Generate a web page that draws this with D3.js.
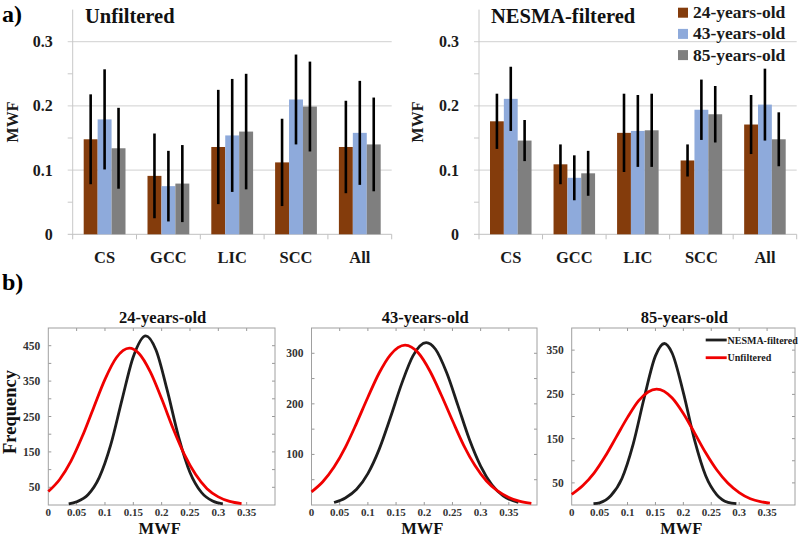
<!DOCTYPE html>
<html>
<head>
<meta charset="utf-8">
<script src="https://cdn.jsdelivr.net/npm/d3@7"></script>
<style>
  body { margin: 0; background: #fff; }
  text { font-family: "Liberation Serif", serif; font-weight: bold; }
</style>
</head>
<body>
<div id="chart"></div>
<script>
// ---- data ----
var categories = ["CS", "GCC", "LIC", "SCC", "All"];
var ages = ["24-years-old", "43-years-old", "85-years-old"];
var ageColors = ["#843c0c", "#8eaadb", "#7f7f7f"];

// mean MWF per category, one value per age
var unfilteredMean = [[0.148, 0.179, 0.134], [0.091, 0.075, 0.079], [0.136, 0.154, 0.160], [0.112, 0.210, 0.199], [0.136, 0.158, 0.140]];
var unfilteredErr  = [[0.070, 0.078, 0.063], [0.066, 0.055, 0.060], [0.089, 0.088, 0.090], [0.068, 0.070, 0.070], [0.072, 0.081, 0.073]];
var nesmaMean = [[0.176, 0.211, 0.146], [0.109, 0.088, 0.095], [0.158, 0.161, 0.162], [0.115, 0.194, 0.187], [0.171, 0.202, 0.148]];
var nesmaErr  = [[0.043, 0.050, 0.032], [0.031, 0.035, 0.035], [0.061, 0.056, 0.057], [0.025, 0.047, 0.044], [0.046, 0.056, 0.042]];
var barTicks = [0, 0.1, 0.2, 0.3];

// MWF distributions (x = MWF, y = frequency)
var nesma24X = [0.036, 0.05, 0.07, 0.09, 0.11, 0.13, 0.15, 0.172, 0.19, 0.21, 0.23, 0.25, 0.27, 0.29, 0.308];
var nesma24Y = [3, 9, 29, 78, 169, 297, 419, 478, 438, 323, 192, 92, 36, 11, 3];
var unf24X = [0, 0.02, 0.04, 0.06, 0.08, 0.1, 0.12, 0.143, 0.16, 0.18, 0.2, 0.22, 0.24, 0.26, 0.28, 0.3, 0.32, 0.341];
var unf24Y = [38, 72, 124, 194, 275, 355, 416, 443, 428, 376, 300, 217, 143, 86, 46, 23, 10, 4];
var nesma43X = [0.04, 0.06, 0.08, 0.1, 0.12, 0.14, 0.16, 0.18, 0.2035, 0.22, 0.24, 0.26, 0.28, 0.3, 0.32, 0.34, 0.367];
var nesma43Y = [5, 14, 31, 62, 110, 173, 240, 295, 321, 308, 261, 196, 130, 77, 40, 18, 5];
var unf43X = [0, 0.02, 0.04, 0.06, 0.08, 0.1, 0.12, 0.14, 0.166, 0.19, 0.21, 0.23, 0.25, 0.27, 0.29, 0.31, 0.33, 0.35, 0.37, 0.39];
var unf43Y = [26, 46, 75, 114, 162, 213, 261, 297, 316, 300, 265, 218, 167, 118, 78, 48, 28, 15, 7, 3];
var nesma85X = [0.039, 0.05, 0.07, 0.09, 0.11, 0.13, 0.15, 0.166, 0.18, 0.2, 0.22, 0.24, 0.26, 0.28, 0.295];
var nesma85Y = [3, 5, 21, 60, 137, 243, 337, 365, 343, 254, 147, 66, 23, 6, 3];
var unf85X = [0, 0.02, 0.04, 0.06, 0.08, 0.1, 0.12, 0.152, 0.18, 0.2, 0.22, 0.24, 0.26, 0.28, 0.3, 0.32, 0.34, 0.355];
var unf85Y = [24, 44, 72, 110, 154, 198, 236, 262, 242, 207, 163, 118, 79, 49, 28, 14, 7, 4];

var distXTicks = [0, 0.05, 0.1, 0.15, 0.2, 0.25, 0.3, 0.35];

var svg = d3.select("#chart").append("svg")
    .attr("width", 800)
    .attr("height", 537);

// ---------- a) bar charts ----------
function barPanel(left, right, title, titleX, means, errs, labelX) {
    var y = d3.scaleLinear().domain([0, 0.35]).range([234.3, 9.6]);
    var x0 = d3.scaleBand().domain(categories).range([left, right]);
    var x1 = d3.scaleBand().domain(ages).range([11, x0.bandwidth() - 11]);

    var g = svg.append("g");

    // gridlines
    g.selectAll(".grid")
        .data(barTicks.slice(1))
        .enter().append("line")
        .attr("x1", left - 5).attr("x2", right)
        .attr("y1", function(d) { return y(d); })
        .attr("y2", function(d) { return y(d); })
        .attr("stroke", "#d0d0d0").attr("stroke-width", 1);

    // minor ticks
    g.selectAll(".minor")
        .data([0.05, 0.15, 0.25])
        .enter().append("line")
        .attr("x1", left - 5).attr("x2", left)
        .attr("y1", function(d) { return y(d); })
        .attr("y2", function(d) { return y(d); })
        .attr("stroke", "#c8c8c8");

    // axis lines
    g.append("line").attr("x1", left).attr("x2", left)
        .attr("y1", y(0.35)).attr("y2", y(0)).attr("stroke", "#c8c8c8");
    g.append("line").attr("x1", left - 5).attr("x2", right)
        .attr("y1", y(0)).attr("y2", y(0)).attr("stroke", "#c0c0c0");
    g.selectAll(".ctick")
        .data(d3.range(categories.length + 1))
        .enter().append("line")
        .attr("x1", function(i) { return left + i * x0.bandwidth(); })
        .attr("x2", function(i) { return left + i * x0.bandwidth(); })
        .attr("y1", y(0)).attr("y2", y(0) + 5)
        .attr("stroke", "#c0c0c0");

    // bars
    var groups = g.selectAll(".cat")
        .data(categories)
        .enter().append("g")
        .attr("transform", function(d) { return "translate(" + x0(d) + ",0)"; });

    groups.selectAll("rect")
        .data(function(d, i) { return ages.map(function(a, j) { return {age: a, j: j, v: means[i][j], e: errs[i][j]}; }); })
        .enter().append("rect")
        .attr("x", function(d) { return x1(d.age); })
        .attr("width", x1.bandwidth())
        .attr("y", function(d) { return y(d.v); })
        .attr("height", function(d) { return y(0) - y(d.v); })
        .attr("fill", function(d) { return ageColors[d.j]; });

    groups.selectAll(".err")
        .data(function(d, i) { return ages.map(function(a, j) { return {age: a, v: means[i][j], e: errs[i][j]}; }); })
        .enter().append("line")
        .attr("x1", function(d) { return x1(d.age) + x1.bandwidth() / 2; })
        .attr("x2", function(d) { return x1(d.age) + x1.bandwidth() / 2; })
        .attr("y1", function(d) { return y(d.v - d.e); })
        .attr("y2", function(d) { return y(d.v + d.e); })
        .attr("stroke", "#000").attr("stroke-width", 2.6);

    // tick labels
    g.selectAll(".ylab")
        .data(barTicks)
        .enter().append("text")
        .attr("x", left - 20)
        .attr("y", function(d) { return y(d) + 5.5; })
        .attr("text-anchor", "end")
        .attr("font-size", 16)
        .attr("fill", "#1a1a1a")
        .text(function(d) { return d === 0 ? "0" : d3.format(".1f")(d); });

    g.selectAll(".xlab")
        .data(categories)
        .enter().append("text")
        .attr("x", function(d) { return x0(d) + x0.bandwidth() / 2; })
        .attr("y", 263)
        .attr("text-anchor", "middle")
        .attr("font-size", 16.5)
        .attr("fill", "#1a1a1a")
        .text(function(d) { return d; });

    g.append("text")
        .attr("transform", "translate(" + (labelX + 5) + ",122) rotate(-90)")
        .attr("text-anchor", "middle")
        .attr("font-size", 16)
        .attr("fill", "#1a1a1a")
        .text("MWF");

    g.append("text")
        .attr("x", titleX).attr("y", 22.5)
        .attr("font-size", 20.5)
        .attr("fill", "#111")
        .text(title);
}

barPanel(72.7, 391.7, "Unfiltered", 85, unfilteredMean, unfilteredErr, 12.5);
barPanel(479, 796.7, "NESMA-filtered", 491, nesmaMean, nesmaErr, 417.5);

// legend
var leg = svg.append("g");
ages.forEach(function(a, i) {
    var cy = 12.7 + i * 21.2;
    leg.append("rect").attr("x", 678).attr("y", cy - 5).attr("width", 10).attr("height", 10)
        .attr("fill", ageColors[i]);
    leg.append("text").attr("x", 693).attr("y", cy + 5.5)
        .attr("font-size", 17.5).attr("fill", "#1a1a1a").text(a);
});

svg.append("text").attr("x", 2).attr("y", 22).attr("font-size", 24).attr("fill", "#000").text("a)");
svg.append("text").attr("x", 2).attr("y", 290).attr("font-size", 24).attr("fill", "#000").text("b)");

// ---------- b) distributions ----------
var distPanels = [
    {left: 48.3, right: 275, yMax: 500, yLabels: [50, 150, 250, 350, 450], title: "24-years-old",
     nx: nesma24X, ny: nesma24Y, ux: unf24X, uy: unf24Y},
    {left: 311.5, right: 537, yMax: 350, yLabels: [100, 200, 300], title: "43-years-old",
     nx: nesma43X, ny: nesma43Y, ux: unf43X, uy: unf43Y},
    {left: 571.7, right: 795, yMax: 400, yLabels: [50, 150, 250, 350], title: "85-years-old",
     nx: nesma85X, ny: nesma85Y, ux: unf85X, uy: unf85Y}
];

distPanels.forEach(function(p, k) {
    var top = 328, bottom = 505;
    var x = d3.scaleLinear().domain([0, 0.4]).range([p.left, p.right]);
    var y = d3.scaleLinear().domain([0, p.yMax]).range([bottom, top]);
    var g = svg.append("g");

    // ticks inward on all sides
    var xt = d3.range(1, 8).map(function(i) { return i * 0.05; });
    var yt = d3.range(50, p.yMax, 50);
    xt.forEach(function(t) {
        g.append("line").attr("x1", x(t)).attr("x2", x(t)).attr("y1", bottom).attr("y2", bottom - 3).attr("stroke", "#999");
        g.append("line").attr("x1", x(t)).attr("x2", x(t)).attr("y1", top).attr("y2", top + 3).attr("stroke", "#999");
    });
    yt.forEach(function(t) {
        g.append("line").attr("x1", p.left).attr("x2", p.left + 3).attr("y1", y(t)).attr("y2", y(t)).attr("stroke", "#999");
        g.append("line").attr("x1", p.right).attr("x2", p.right - 3).attr("y1", y(t)).attr("y2", y(t)).attr("stroke", "#999");
    });

    g.append("rect")
        .attr("x", p.left).attr("y", top)
        .attr("width", p.right - p.left).attr("height", bottom - top)
        .attr("fill", "none").attr("stroke", "#a0a0a0");

    g.selectAll(".xl").data(distXTicks).enter().append("text")
        .attr("x", function(d) { return x(d); })
        .attr("y", 516)
        .attr("text-anchor", "middle")
        .attr("font-size", 11)
        .attr("fill", "#333")
        .text(function(d) { return d === 0 ? "0" : String(d); });

    g.selectAll(".yl").data(p.yLabels).enter().append("text")
        .attr("x", p.left - 8)
        .attr("y", function(d) { return y(d) + 4; })
        .attr("text-anchor", "end")
        .attr("font-size", 11.5)
        .attr("fill", "#333")
        .text(function(d) { return d; });

    var line = d3.line()
        .x(function(d) { return x(d[0]); })
        .y(function(d) { return y(d[1]); })
        .curve(d3.curveMonotoneX);

    g.append("path")
        .datum(d3.zip(p.nx, p.ny))
        .attr("d", line)
        .attr("fill", "none").attr("stroke", "#1e1e1e").attr("stroke-width", 2.8);
    g.append("path")
        .datum(d3.zip(p.ux, p.uy))
        .attr("d", line)
        .attr("fill", "none").attr("stroke", "#f00000").attr("stroke-width", 2.8);

    g.append("text")
        .attr("x", (p.left + p.right) / 2 + 1)
        .attr("y", 322.5)
        .attr("text-anchor", "middle")
        .attr("font-size", 16.5)
        .attr("fill", "#111")
        .text(p.title);

    g.append("text")
        .attr("x", (p.left + p.right) / 2 - 2)
        .attr("y", 533.5)
        .attr("text-anchor", "middle")
        .attr("font-size", 16.5)
        .attr("fill", "#111")
        .text("MWF");
});

svg.append("text")
    .attr("transform", "translate(16,412) rotate(-90)")
    .attr("text-anchor", "middle")
    .attr("font-size", 18.5)
    .attr("fill", "#111")
    .text("Frequency");

// curve legend (third panel)
var cl = svg.append("g");
[["NESMA-filtered", "#1e1e1e", 340], ["Unfiltered", "#f00000", 357.7]].forEach(function(d) {
    cl.append("line").attr("x1", 705.7).attr("x2", 726.7).attr("y1", d[2]).attr("y2", d[2])
        .attr("stroke", d[1]).attr("stroke-width", 2.8);
    cl.append("text").attr("x", 727.5).attr("y", d[2] + 3.5)
        .attr("font-size", 10).attr("fill", "#1a1a1a").text(d[0]);
});
</script>
</body>
</html>
